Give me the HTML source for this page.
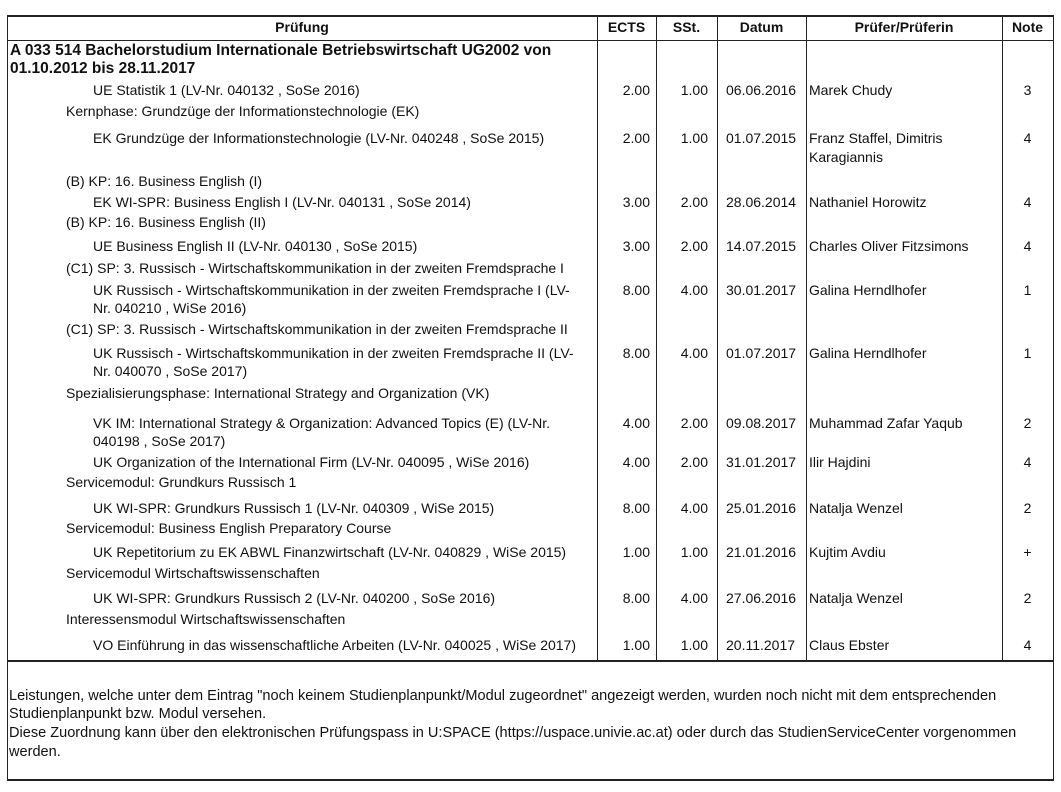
<!DOCTYPE html>
<html><head><meta charset="utf-8"><style>
body{margin:0;width:1061px;height:792px;background:#fff;position:relative;overflow:hidden;font-family:"Liberation Sans",sans-serif;font-size:14px;color:#111}
.t{position:absolute;white-space:nowrap;line-height:16px}
.h{font-weight:bold;text-align:center}
.r{text-align:right}
.c{text-align:center}
.f{font-size:14.55px}
.b{font-weight:bold;font-size:15.5px}
.v{position:absolute;background:#222;width:1px}
.hl{position:absolute;background:#222;height:1px}
</style></head><body>
<div class="hl" style="left:7px;top:15px;width:1047px;height:2px"></div>
<div class="hl" style="left:7px;top:40px;width:1047px"></div>
<div class="hl" style="left:7px;top:660px;width:1047px;height:2px"></div>
<div class="hl" style="left:7px;top:779px;width:1047px;height:2px"></div>
<div class="v" style="left:7px;top:15px;height:766px"></div>
<div class="v" style="left:1053px;top:15px;height:766px"></div>
<div class="v" style="left:597px;top:15px;height:646px"></div>
<div class="v" style="left:656px;top:15px;height:646px"></div>
<div class="v" style="left:717px;top:15px;height:646px"></div>
<div class="v" style="left:806px;top:15px;height:646px"></div>
<div class="v" style="left:1002px;top:15px;height:646px"></div>

<div class="t h" style="left:7px;width:590px;top:19px">Prüfung</div>
<div class="t h" style="left:597px;width:59px;top:19px">ECTS</div>
<div class="t h" style="left:656px;width:61px;top:19px">SSt.</div>
<div class="t h" style="left:717px;width:89px;top:19px">Datum</div>
<div class="t h" style="left:806px;width:196px;top:19px">Prüfer/Prüferin</div>
<div class="t h" style="left:1002px;width:51px;top:19px">Note</div>

<div class="t b" style="left:10px;top:43px">A 033 514 Bachelorstudium Internationale Betriebswirtschaft UG2002 von</div>
<div class="t b" style="left:10px;top:61px">01.10.2012 bis 28.11.2017</div>

<div class="t" style="left:93px;top:82px">UE Statistik 1 (LV-Nr. 040132 , SoSe 2016)</div>
<div class="t" style="left:66px;top:103px">Kernphase: Grundzüge der Informationstechnologie (EK)</div>
<div class="t" style="left:93px;top:130px">EK Grundzüge der Informationstechnologie (LV-Nr. 040248 , SoSe 2015)</div>
<div class="t" style="left:66px;top:173px">(B) KP: 16. Business English (I)</div>
<div class="t" style="left:93px;top:194px">EK WI-SPR: Business English I (LV-Nr. 040131 , SoSe 2014)</div>
<div class="t" style="left:66px;top:214px">(B) KP: 16. Business English (II)</div>
<div class="t" style="left:93px;top:238px">UE Business English II (LV-Nr. 040130 , SoSe 2015)</div>
<div class="t" style="left:66px;top:260px">(C1) SP: 3. Russisch - Wirtschaftskommunikation in der zweiten Fremdsprache I</div>
<div class="t" style="left:93px;top:282px">UK Russisch - Wirtschaftskommunikation in der zweiten Fremdsprache I (LV-</div>
<div class="t" style="left:93px;top:300px">Nr. 040210 , WiSe 2016)</div>
<div class="t" style="left:66px;top:321px">(C1) SP: 3. Russisch - Wirtschaftskommunikation in der zweiten Fremdsprache II</div>
<div class="t" style="left:93px;top:345px">UK Russisch - Wirtschaftskommunikation in der zweiten Fremdsprache II (LV-</div>
<div class="t" style="left:93px;top:363px">Nr. 040070 , SoSe 2017)</div>
<div class="t" style="left:66px;top:385px">Spezialisierungsphase: International Strategy and Organization (VK)</div>
<div class="t" style="left:93px;top:415px">VK IM: International Strategy &amp; Organization: Advanced Topics (E) (LV-Nr.</div>
<div class="t" style="left:93px;top:433px">040198 , SoSe 2017)</div>
<div class="t" style="left:93px;top:454px">UK Organization of the International Firm (LV-Nr. 040095 , WiSe 2016)</div>
<div class="t" style="left:66px;top:474px">Servicemodul: Grundkurs Russisch 1</div>
<div class="t" style="left:93px;top:500px">UK WI-SPR: Grundkurs Russisch 1 (LV-Nr. 040309 , WiSe 2015)</div>
<div class="t" style="left:66px;top:520px">Servicemodul: Business English Preparatory Course</div>
<div class="t" style="left:93px;top:544px">UK Repetitorium zu EK ABWL Finanzwirtschaft (LV-Nr. 040829 , WiSe 2015)</div>
<div class="t" style="left:66px;top:565px">Servicemodul Wirtschaftswissenschaften</div>
<div class="t" style="left:93px;top:590px">UK WI-SPR: Grundkurs Russisch 2 (LV-Nr. 040200 , SoSe 2016)</div>
<div class="t" style="left:66px;top:611px">Interessensmodul Wirtschaftswissenschaften</div>
<div class="t" style="left:93px;top:637px">VO Einführung in das wissenschaftliche Arbeiten (LV-Nr. 040025 , WiSe 2017)</div>

<div id="d"></div>
<script>
var rows=[[82,"2.00","1.00","06.06.2016","Marek Chudy","3"],
[130,"2.00","1.00","01.07.2015","Franz Staffel, Dimitris","4"],
[194,"3.00","2.00","28.06.2014","Nathaniel Horowitz","4"],
[238,"3.00","2.00","14.07.2015","Charles Oliver Fitzsimons","4"],
[282,"8.00","4.00","30.01.2017","Galina Herndlhofer","1"],
[345,"8.00","4.00","01.07.2017","Galina Herndlhofer","1"],
[415,"4.00","2.00","09.08.2017","Muhammad Zafar Yaqub","2"],
[454,"4.00","2.00","31.01.2017","Ilir Hajdini","4"],
[500,"8.00","4.00","25.01.2016","Natalja Wenzel","2"],
[544,"1.00","1.00","21.01.2016","Kujtim Avdiu","+"],
[590,"8.00","4.00","27.06.2016","Natalja Wenzel","2"],
[637,"1.00","1.00","20.11.2017","Claus Ebster","4"]];
var h="";rows.forEach(function(r){var y=r[0];
h+='<div class="t r" style="left:597px;width:53px;top:'+y+'px">'+r[1]+'</div>';
h+='<div class="t r" style="left:656px;width:52px;top:'+y+'px">'+r[2]+'</div>';
h+='<div class="t" style="left:726px;top:'+y+'px">'+r[3]+'</div>';
h+='<div class="t" style="left:809px;top:'+y+'px">'+r[4]+'</div>';
h+='<div class="t c" style="left:1002px;width:51px;top:'+y+'px">'+r[5]+'</div>';});
h+='<div class="t" style="left:809px;top:149px">Karagiannis</div>';
document.getElementById("d").innerHTML=h;
</script>

<div class="t f" style="left:9px;top:688px">Leistungen, welche unter dem Eintrag "noch keinem Studienplanpunkt/Modul zugeordnet" angezeigt werden, wurden noch nicht mit dem entsprechenden</div>
<div class="t f" style="left:9px;top:706px">Studienplanpunkt bzw. Modul versehen.</div>
<div class="t f" style="left:9px;top:725px">Diese Zuordnung kann über den elektronischen Prüfungspass in U:SPACE (https://uspace.univie.ac.at) oder durch das StudienServiceCenter vorgenommen</div>
<div class="t f" style="left:9px;top:744px">werden.</div>
</body></html>
